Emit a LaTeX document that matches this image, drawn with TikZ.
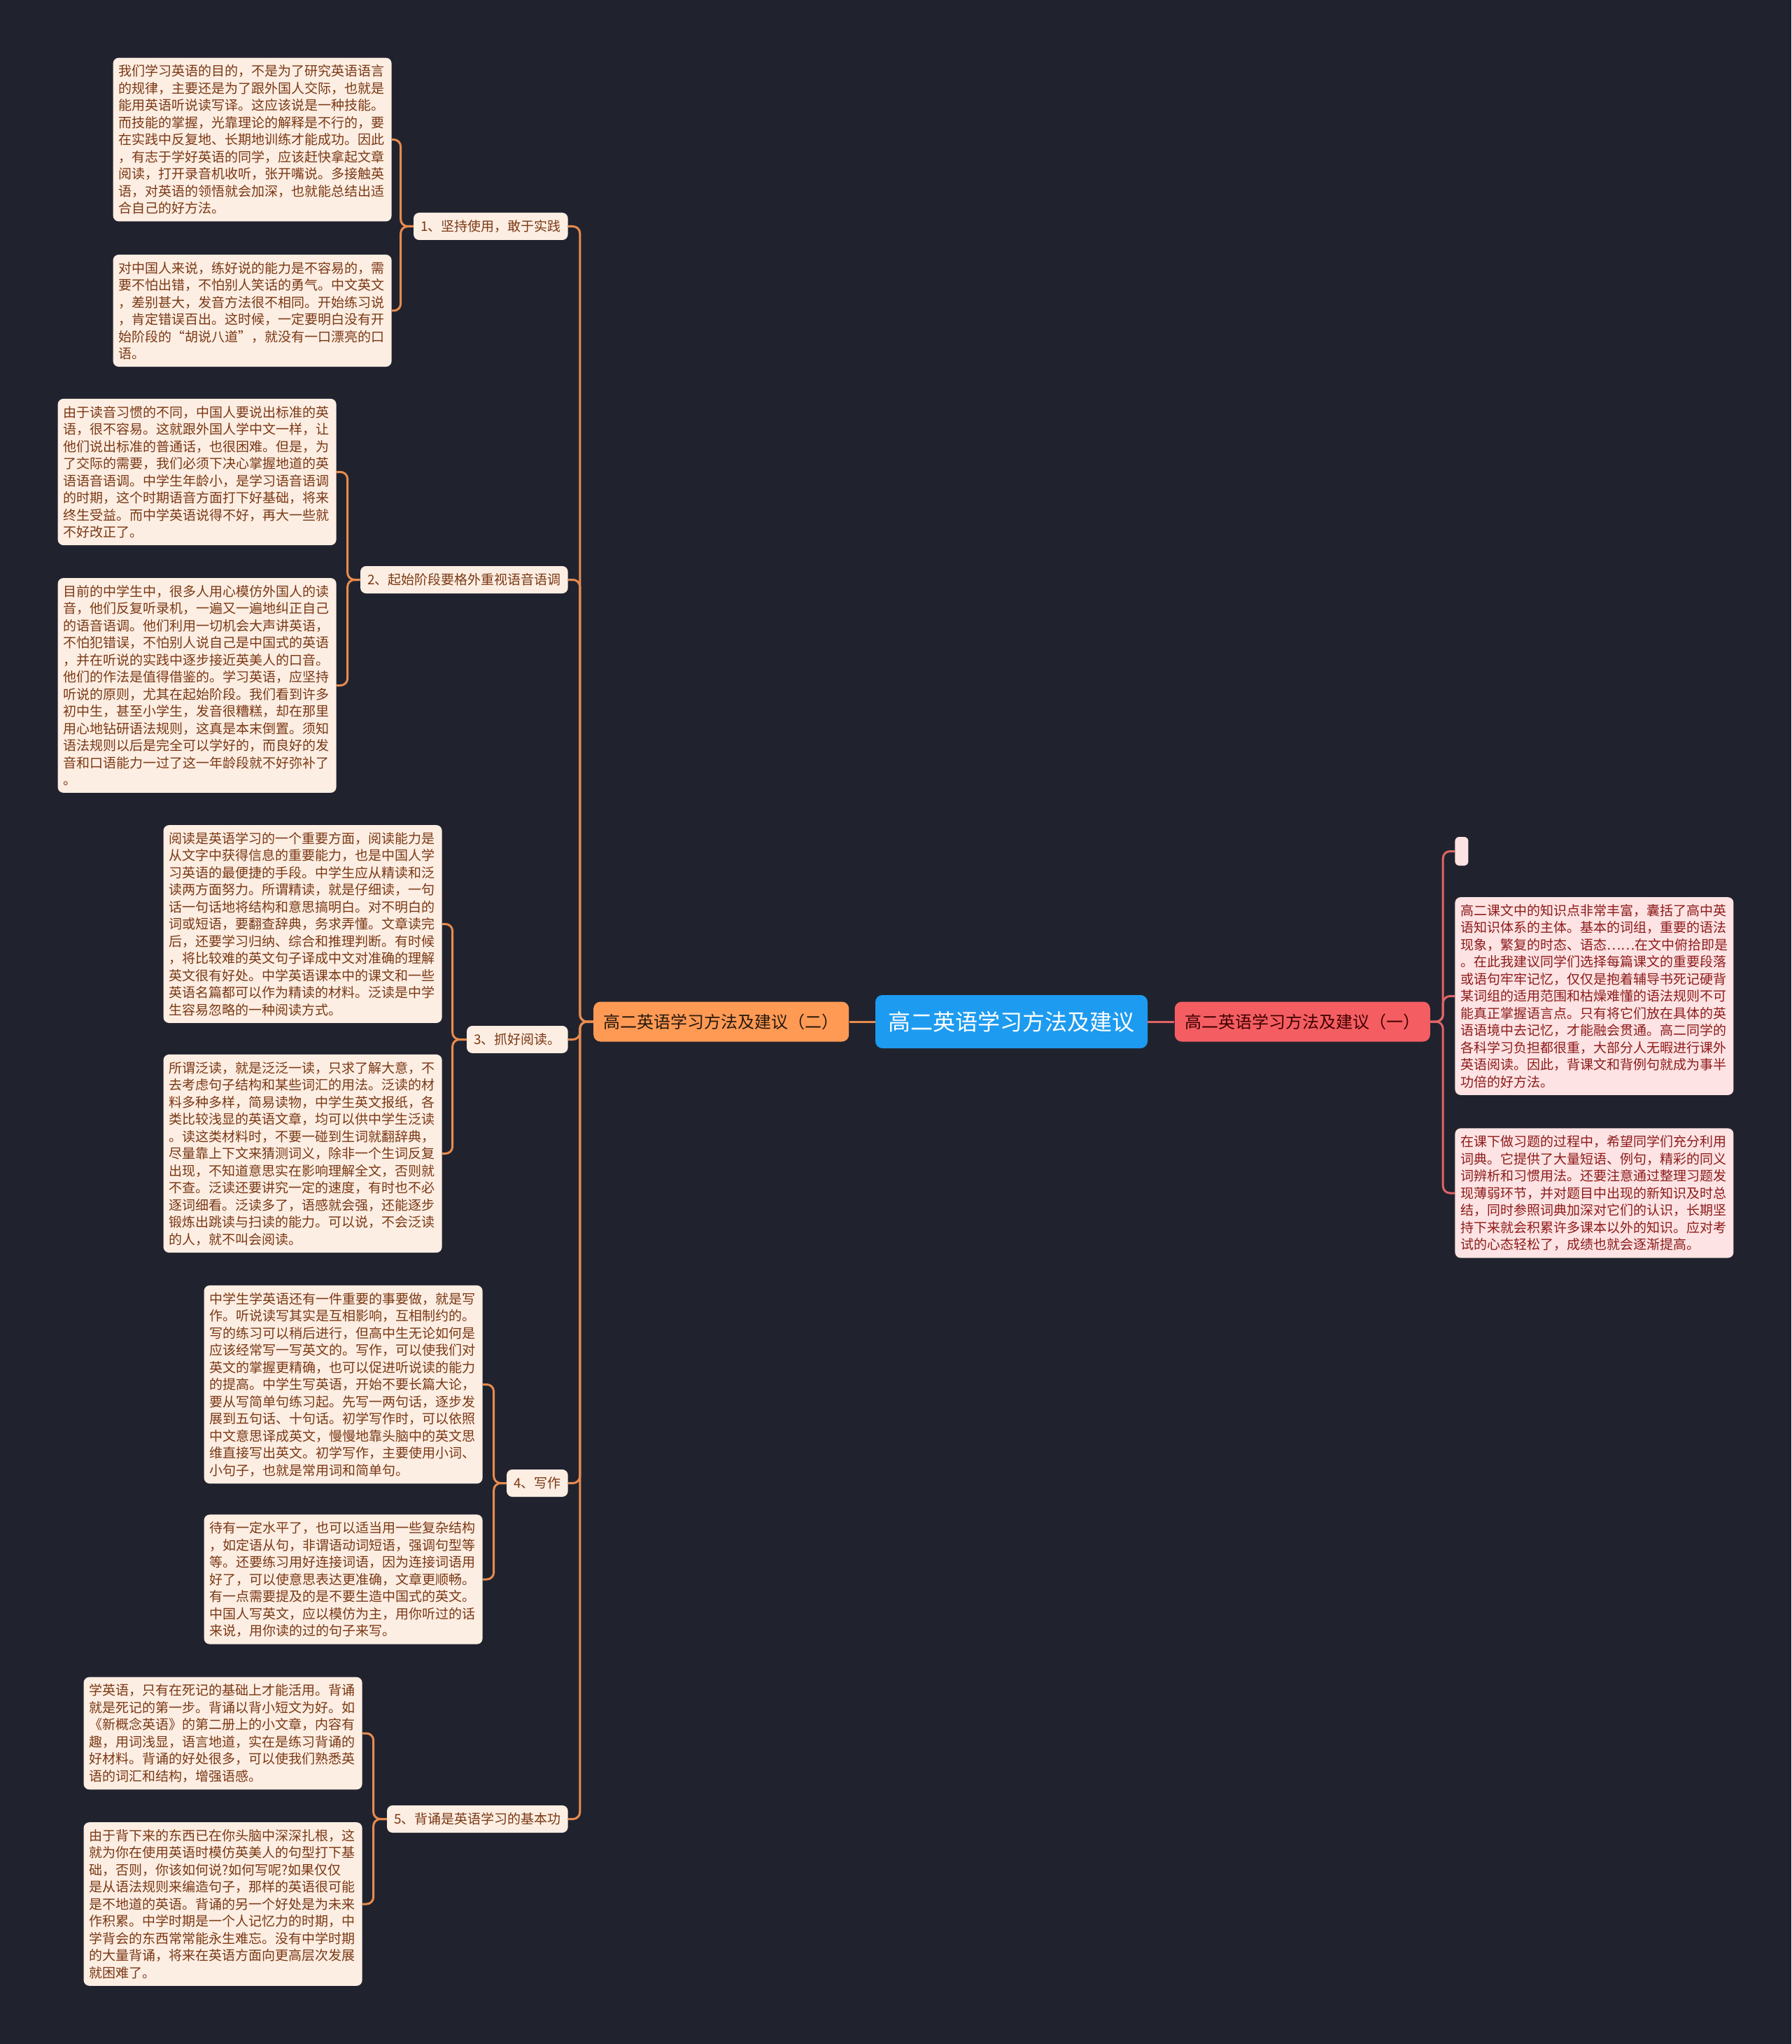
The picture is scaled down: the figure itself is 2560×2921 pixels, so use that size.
\documentclass[tikz,border=0pt]{standalone}
\usepackage{fontspec}
\setmainfont{Noto Sans CJK SC}
\usepackage{xcolor}
\usepackage{tikz}
\usetikzlibrary{positioning}

\definecolor{bgdark}{HTML}{20232E}
\definecolor{rootblue}{HTML}{1D9BF0}
\definecolor{branchorange}{HTML}{FF9A55}
\definecolor{branchred}{HTML}{F45E62}
\definecolor{leafpeach}{HTML}{FDEEE3}
\definecolor{leafpink}{HTML}{FDE3E3}
\definecolor{textbrown}{HTML}{7A3814}
\definecolor{textmaroon}{HTML}{8E1B1B}
\definecolor{lineorange}{HTML}{E98B4E}
\definecolor{linered}{HTML}{E06466}

\begin{document}
\begin{tikzpicture}[x=0.5pt, y=-0.5pt,
centre/.style={fill=rootblue, rounded corners=5pt, text=white, font=\fontsize{16pt}{19pt}\selectfont, inner xsep=9.25pt, minimum height=38pt},
sideleft/.style={fill=branchorange, rounded corners=5pt, text=black!80!brown, font=\fontsize{12pt}{14pt}\selectfont, inner xsep=7.25pt, minimum height=28.5pt},
sideright/.style={fill=branchred, rounded corners=5pt, text=black!75!red, font=\fontsize{12pt}{14pt}\selectfont, inner xsep=7.25pt, minimum height=28.5pt},
topic/.style={fill=leafpeach, rounded corners=4pt, text=textbrown, font=\fontsize{9.5pt}{12.25pt}\selectfont, inner xsep=5pt, minimum height=19.5pt},
note/.style={fill=leafpeach, rounded corners=4pt, text=textbrown, font=\fontsize{9.5pt}{12.25pt}\selectfont, text width=191pt, align=left, inner xsep=4pt, inner ysep=5pt},
notepink/.style={note, fill=leafpink, text=textmaroon},
emptytopic/.style={fill=leafpink, rounded corners=3pt, inner sep=0pt, minimum width=9.5pt, minimum height=20.5pt},
linkL/.style={draw=lineorange, line width=1.5pt, rounded corners=5pt},
linkR/.style={draw=linered, line width=1.5pt, rounded corners=5pt}
]
\fill[bgdark] (0,0) rectangle (2560,2921);

% centre and the two halves
\node[centre] (root) at (1445.5,1460) {高二英语学习方法及建议};
\node[sideleft, left=18.5pt of root] (partL) {高二英语学习方法及建议（二）};
\node[sideright, right=19pt of root] (partR) {高二英语学习方法及建议（一）};
\draw[linkL] (root.west) -- (partL.east);
\draw[linkR] (root.east) -- (partR.west);

% left half: topics
\node[topic, anchor=east] (t1) at (812,323.5) {1、坚持使用，敢于实践};
\node[topic, anchor=east] (t2) at (812,828.5) {2、起始阶段要格外重视语音语调};
\node[topic, anchor=east] (t3) at (812,1485.5) {3、抓好阅读。};
\node[topic, anchor=east] (t4) at (812,2119.5) {4、写作};
\node[topic, anchor=east] (t5) at (812,2599.5) {5、背诵是英语学习的基本功};
\draw[linkL] (partL.west) -- ++(-19,0) |- (t1.east);
\draw[linkL] (partL.west) -- ++(-19,0) |- (t2.east);
\draw[linkL] (partL.west) -- ++(-19,0) |- (t3.east);
\draw[linkL] (partL.west) -- ++(-19,0) |- (t4.east);
\draw[linkL] (partL.west) -- ++(-19,0) |- (t5.east);

% left half: notes
\node[note, anchor=east] (n1a) at (560,199.5) {我们学习英语的目的，不是为了研究英语语言\\的规律，主要还是为了跟外国人交际，也就是\\能用英语听说读写译。这应该说是一种技能。\\而技能的掌握，光靠理论的解释是不行的，要\\在实践中反复地、长期地训练才能成功。因此\\，有志于学好英语的同学，应该赶快拿起文章\\阅读，打开录音机收听，张开嘴说。多接触英\\语，对英语的领悟就会加深，也就能总结出适\\合自己的好方法。};
\node[note, anchor=east] (n1b) at (560,444) {对中国人来说，练好说的能力是不容易的，需\\要不怕出错，不怕别人笑话的勇气。中文英文\\，差别甚大，发音方法很不相同。开始练习说\\，肯定错误百出。这时候，一定要明白没有开\\始阶段的“胡说八道”，就没有一口漂亮的口\\语。};
\node[note, anchor=east] (n2a) at (481,674.5) {由于读音习惯的不同，中国人要说出标准的英\\语，很不容易。这就跟外国人学中文一样，让\\他们说出标准的普通话，也很困难。但是，为\\了交际的需要，我们必须下决心掌握地道的英\\语语音语调。中学生年龄小，是学习语音语调\\的时期，这个时期语音方面打下好基础，将来\\终生受益。而中学英语说得不好，再大一些就\\不好改正了。};
\node[note, anchor=east] (n2b) at (481,979.5) {目前的中学生中，很多人用心模仿外国人的读\\音，他们反复听录机，一遍又一遍地纠正自己\\的语音语调。他们利用一切机会大声讲英语，\\不怕犯错误，不怕别人说自己是中国式的英语\\，并在听说的实践中逐步接近英美人的口音。\\他们的作法是值得借鉴的。学习英语，应坚持\\听说的原则，尤其在起始阶段。我们看到许多\\初中生，甚至小学生，发音很糟糕，却在那里\\用心地钻研语法规则，这真是本末倒置。须知\\语法规则以后是完全可以学好的，而良好的发\\音和口语能力一过了这一年龄段就不好弥补了\\。};
\node[note, anchor=east] (n3a) at (632,1320.5) {阅读是英语学习的一个重要方面，阅读能力是\\从文字中获得信息的重要能力，也是中国人学\\习英语的最便捷的手段。中学生应从精读和泛\\读两方面努力。所谓精读，就是仔细读，一句\\话一句话地将结构和意思搞明白。对不明白的\\词或短语，要翻查辞典，务求弄懂。文章读完\\后，还要学习归纳、综合和推理判断。有时候\\，将比较难的英文句子译成中文对准确的理解\\英文很有好处。中学英语课本中的课文和一些\\英语名篇都可以作为精读的材料。泛读是中学\\生容易忽略的一种阅读方式。};
\node[note, anchor=east] (n3b) at (632,1648.5) {所谓泛读，就是泛泛一读，只求了解大意，不\\去考虑句子结构和某些词汇的用法。泛读的材\\料多种多样，简易读物，中学生英文报纸，各\\类比较浅显的英语文章，均可以供中学生泛读\\。读这类材料时，不要一碰到生词就翻辞典，\\尽量靠上下文来猜测词义，除非一个生词反复\\出现，不知道意思实在影响理解全文，否则就\\不查。泛读还要讲究一定的速度，有时也不必\\逐词细看。泛读多了，语感就会强，还能逐步\\锻炼出跳读与扫读的能力。可以说，不会泛读\\的人，就不叫会阅读。};
\node[note, anchor=east] (n4a) at (690,1978.5) {中学生学英语还有一件重要的事要做，就是写\\作。听说读写其实是互相影响，互相制约的。\\写的练习可以稍后进行，但高中生无论如何是\\应该经常写一写英文的。写作，可以使我们对\\英文的掌握更精确，也可以促进听说读的能力\\的提高。中学生写英语，开始不要长篇大论，\\要从写简单句练习起。先写一两句话，逐步发\\展到五句话、十句话。初学写作时，可以依照\\中文意思译成英文，慢慢地靠头脑中的英文思\\维直接写出英文。初学写作，主要使用小词、\\小句子，也就是常用词和简单句。};
\node[note, anchor=east] (n4b) at (690,2257) {待有一定水平了，也可以适当用一些复杂结构\\，如定语从句，非谓语动词短语，强调句型等\\等。还要练习用好连接词语，因为连接词语用\\好了，可以使意思表达更准确，文章更顺畅。\\有一点需要提及的是不要生造中国式的英文。\\中国人写英文，应以模仿为主，用你听过的话\\来说，用你读的过的句子来写。};
\node[note, anchor=east] (n5a) at (518,2477) {学英语，只有在死记的基础上才能活用。背诵\\就是死记的第一步。背诵以背小短文为好。如\\《新概念英语》的第二册上的小文章，内容有\\趣，用词浅显，语言地道，实在是练习背诵的\\好材料。背诵的好处很多，可以使我们熟悉英\\语的词汇和结构，增强语感。};
\node[note, anchor=east] (n5b) at (518,2721) {由于背下来的东西已在你头脑中深深扎根，这\\就为你在使用英语时模仿英美人的句型打下基\\础，否则，你该如何说?如何写呢?如果仅仅\\是从语法规则来编造句子，那样的英语很可能\\是不地道的英语。背诵的另一个好处是为未来\\作积累。中学时期是一个人记忆力的时期，中\\学背会的东西常常能永生难忘。没有中学时期\\的大量背诵，将来在英语方面向更高层次发展\\就困难了。};
\draw[linkL] (t1.west) -- ++(-18,0) |- (n1a.east);
\draw[linkL] (t1.west) -- ++(-18,0) |- (n1b.east);
\draw[linkL] (t2.west) -- ++(-18,0) |- (n2a.east);
\draw[linkL] (t2.west) -- ++(-18,0) |- (n2b.east);
\draw[linkL] (t3.west) -- ++(-20,0) |- (n3a.east);
\draw[linkL] (t3.west) -- ++(-20,0) |- (n3b.east);
\draw[linkL] (t4.west) -- ++(-18,0) |- (n4a.east);
\draw[linkL] (t4.west) -- ++(-18,0) |- (n4b.east);
\draw[linkL] (t5.west) -- ++(-19,0) |- (n5a.east);
\draw[linkL] (t5.west) -- ++(-19,0) |- (n5b.east);

% right half
\node[emptytopic, anchor=west] (r0) at (2079,1216.5) {};
\node[notepink, anchor=west] (r1) at (2079,1423.5) {高二课文中的知识点非常丰富，囊括了高中英\\语知识体系的主体。基本的词组，重要的语法\\现象，繁复的时态、语态……在文中俯拾即是\\。在此我建议同学们选择每篇课文的重要段落\\或语句牢牢记忆，仅仅是抱着辅导书死记硬背\\某词组的适用范围和枯燥难懂的语法规则不可\\能真正掌握语言点。只有将它们放在具体的英\\语语境中去记忆，才能融会贯通。高二同学的\\各科学习负担都很重，大部分人无暇进行课外\\英语阅读。因此，背课文和背例句就成为事半\\功倍的好方法。};
\node[notepink, anchor=west] (r2) at (2079,1705) {在课下做习题的过程中，希望同学们充分利用\\词典。它提供了大量短语、例句，精彩的同义\\词辨析和习惯用法。还要注意通过整理习题发\\现薄弱环节，并对题目中出现的新知识及时总\\结，同时参照词典加深对它们的认识，长期坚\\持下来就会积累许多课本以外的知识。应对考\\试的心态轻松了，成绩也就会逐渐提高。};
\draw[linkR] (partR.east) -- ++(18,0) |- (r0.west);
\draw[linkR] (partR.east) -- ++(18,0) |- (r1.west);
\draw[linkR] (partR.east) -- ++(18,0) |- (r2.west);
\end{tikzpicture}
\end{document}
